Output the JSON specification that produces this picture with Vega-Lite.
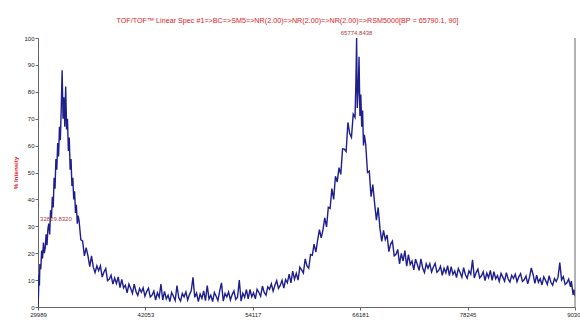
{
  "$schema": "https://vega.github.io/schema/vega-lite/v6.json",
  "autosize": "none",
  "width": 537,
  "height": 269,
  "padding": {"left": 38, "top": 38, "right": 5, "bottom": 13},
  "background": "white",
  "config": {"view": {"stroke": null}, "font": "Liberation Sans"},
  "title": {"text": "TOF/TOF\u2122 Linear Spec #1=>BC=>SM5=>NR(2.00)=>NR(2.00)=>NR(2.00)=>RSM5000[BP = 65790.1, 90]", "color": "#e0201c", "fontSize": 7.2, "fontWeight": "normal", "font": "Liberation Sans", "anchor": "middle", "dx": -19, "offset": 6},
  "datasets": {
    "spec": [
      {"m":29989,"i":0},{"m":30050,"i":5},{"m":30100,"i":12},{"m":30150,"i":8},{"m":30200,"i":16},{"m":30300,"i":14},{"m":30400,"i":21},{"m":30500,"i":18},{"m":30600,"i":24},{"m":30700,"i":20},{"m":30800,"i":22},{"m":30900,"i":27},{"m":31000,"i":23},{"m":31100,"i":29},{"m":31200,"i":31},{"m":31300,"i":27},{"m":31400,"i":36},{"m":31500,"i":33},{"m":31600,"i":41},{"m":31700,"i":37},{"m":31800,"i":48},{"m":31900,"i":44},{"m":32000,"i":55},{"m":32100,"i":51},{"m":32200,"i":61},{"m":32300,"i":56},{"m":32400,"i":67},{"m":32500,"i":62},{"m":32600,"i":74},{"m":32700,"i":88},{"m":32800,"i":70},{"m":32900,"i":78},{"m":33000,"i":67},{"m":33100,"i":82},{"m":33200,"i":66},{"m":33300,"i":70},{"m":33400,"i":58},{"m":33500,"i":63},{"m":33600,"i":51},{"m":33700,"i":55},{"m":33800,"i":45},{"m":33900,"i":48},{"m":34000,"i":40},{"m":34100,"i":43},{"m":34200,"i":35},{"m":34300,"i":38},{"m":34400,"i":31},{"m":34500,"i":34},
      {"m":34600,"i":32.2},{"m":34800,"i":25},{"m":35000,"i":24.6},{"m":35200,"i":19},{"m":35400,"i":22.1},{"m":35600,"i":19},{"m":35800,"i":15},{"m":36000,"i":19},{"m":36200,"i":14.8},{"m":36400,"i":12.8},{"m":36600,"i":15.3},{"m":36800,"i":13.5},{"m":37000,"i":15.3},{"m":37200,"i":11.1},{"m":37400,"i":13},{"m":37600,"i":14.3},{"m":37800,"i":9.8},{"m":38000,"i":10.4},{"m":38200,"i":11.8},{"m":38400,"i":8.5},{"m":38600,"i":10.8},{"m":38800,"i":8.7},{"m":39000,"i":11.2},{"m":39200,"i":7.2},{"m":39400,"i":10.3},{"m":39600,"i":7.1},{"m":39800,"i":8.1},{"m":40000,"i":5.3},{"m":40200,"i":8.5},{"m":40400,"i":6.9},{"m":40600,"i":5.1},{"m":40800,"i":8.5},{"m":41000,"i":5.7},{"m":41200,"i":4.3},{"m":41400,"i":6.9},{"m":41600,"i":5.5},{"m":41800,"i":7.1},{"m":42000,"i":4},{"m":42200,"i":5.8},{"m":42400,"i":7},{"m":42600,"i":3.7},{"m":42800,"i":4.4},{"m":43000,"i":5.9},{"m":43200,"i":2.6},{"m":43400,"i":5.3},{"m":43600,"i":3.6},{"m":43800,"i":8.5},{"m":44000,"i":2.6},
      {"m":44200,"i":5.8},{"m":44400,"i":3},{"m":44600,"i":4.4},{"m":44800,"i":2},{"m":45000,"i":5.4},{"m":45200,"i":4},{"m":45400,"i":2.4},{"m":45600,"i":8},{"m":45800,"i":3.4},{"m":46000,"i":2.2},{"m":46200,"i":5},{"m":46400,"i":3.8},{"m":46600,"i":5.6},{"m":46800,"i":2.6},{"m":47000,"i":4.6},{"m":47200,"i":6},{"m":47400,"i":11},{"m":47600,"i":3.6},{"m":47800,"i":5.2},{"m":48000,"i":2},{"m":48200,"i":4.8},{"m":48400,"i":3.2},{"m":48600,"i":6},{"m":48800,"i":2.4},{"m":49000,"i":8},{"m":49200,"i":3},{"m":49400,"i":4.4},{"m":49600,"i":2},{"m":49800,"i":5.4},{"m":50000,"i":4},{"m":50200,"i":2.4},{"m":50400,"i":6},{"m":50600,"i":9},{"m":50800,"i":2.2},{"m":51000,"i":5},{"m":51200,"i":3.8},{"m":51400,"i":5.6},{"m":51600,"i":2.6},{"m":51800,"i":4.6},{"m":52000,"i":6},{"m":52200,"i":2.8},{"m":52400,"i":3.6},{"m":52600,"i":10},{"m":52800,"i":2.2},{"m":53000,"i":5.1},{"m":53200,"i":3.6},{"m":53400,"i":6.5},{"m":53600,"i":3},{"m":53800,"i":6.5},{"m":54000,"i":3.8},{"m":54200,"i":5.3},{"m":54400,"i":3},{"m":54600,"i":6.6},{"m":54800,"i":5.4},{"m":55000,"i":4},{"m":55200,"i":7.8},{"m":55400,"i":5.4},{"m":55600,"i":4.4},{"m":55800,"i":7.5},{"m":56000,"i":6.6},{"m":56200,"i":8.6},{"m":56400,"i":5.9},{"m":56600,"i":8.1},{"m":56800,"i":9.8},{"m":57000,"i":6.9},{"m":57200,"i":8},{"m":57400,"i":9.9},{"m":57600,"i":7},{"m":57800,"i":10.2},{"m":58000,"i":9},{"m":58200,"i":12.2},{"m":58400,"i":9},{"m":58600,"i":13.3},{"m":58800,"i":10.3},{"m":59000,"i":12.5},{"m":59200,"i":10},{"m":59400,"i":14.8},{"m":59600,"i":13.8},{"m":59800,"i":12.6},{"m":60000,"i":17.9},{"m":60200,"i":15.3},{"m":60400,"i":14.4},{"m":60600,"i":19.5},{"m":60800,"i":19.2},{"m":61000,"i":23.4},{"m":61200,"i":20.4},{"m":61400,"i":24.9},{"m":61600,"i":28.8},{"m":61800,"i":25.7},{"m":62000,"i":28.7},{"m":62200,"i":33.1},{"m":62400,"i":29.8},{"m":62600,"i":37.1},{"m":62800,"i":36.6},{"m":63000,"i":44},{"m":63200,"i":40},{"m":63400,"i":48.6},{"m":63600,"i":46.5},{"m":63800,"i":51.8},{"m":64000,"i":49.3},{"m":64200,"i":58.8},{"m":64400,"i":58.7},{"m":64600,"i":57.8},{"m":64800,"i":68.6},{"m":65000,"i":64.5},{"m":65200,"i":63.1},{"m":65400,"i":71.7},{"m":65600,"i":70.5},
      {"m":65700,"i":84},{"m":65780,"i":100},{"m":65850,"i":74},{"m":65950,"i":80},{"m":66050,"i":93},{"m":66150,"i":71},{"m":66250,"i":79},{"m":66350,"i":67},{"m":66450,"i":73},{"m":66550,"i":60},{"m":66650,"i":64},
      {"m":66800,"i":60.5},{"m":67000,"i":50},{"m":67200,"i":50.5},{"m":67400,"i":41},{"m":67600,"i":45.5},{"m":67800,"i":38.5},{"m":68000,"i":32.3},{"m":68200,"i":37},{"m":68400,"i":29.3},{"m":68600,"i":24.4},{"m":68800,"i":28.5},{"m":69000,"i":25},{"m":69200,"i":26.8},{"m":69400,"i":20.6},{"m":69600,"i":23.4},{"m":69800,"i":24.5},{"m":70000,"i":19},{"m":70200,"i":19.6},{"m":70400,"i":21.4},{"m":70600,"i":16},{"m":70800,"i":19.9},{"m":71000,"i":17.1},{"m":71200,"i":21},{"m":71400,"i":15.2},{"m":71600,"i":19.5},{"m":71800,"i":15.8},{"m":72000,"i":17.1},{"m":72200,"i":13.8},{"m":72400,"i":17.8},{"m":72600,"i":15.8},{"m":72800,"i":13.6},{"m":73000,"i":17.9},{"m":73200,"i":14.5},{"m":73400,"i":12.8},{"m":73600,"i":16.1},{"m":73800,"i":14.4},{"m":74000,"i":16.1},{"m":74200,"i":13},{"m":74400,"i":14.9},{"m":74600,"i":16.2},{"m":74800,"i":12.9},{"m":75000,"i":13.6},{"m":75200,"i":15.1},{"m":75400,"i":11.8},{"m":75600,"i":14.4},{"m":75800,"i":12.7},{"m":76000,"i":15.4},{"m":76200,"i":11.7},{"m":76400,"i":15},{"m":76600,"i":12.1},{"m":76800,"i":13.4},{"m":77000,"i":10.9},{"m":77200,"i":14.3},{"m":77400,"i":12.8},{"m":77600,"i":11.1},{"m":77800,"i":14.6},{"m":78000,"i":12},{"m":78200,"i":10.7},{"m":78400,"i":13.4},{"m":78600,"i":12.2},{"m":78800,"i":17.5},{"m":79000,"i":10.8},{"m":79200,"i":12.8},{"m":79400,"i":14.1},{"m":79600,"i":10.8},{"m":79800,"i":11.6},{"m":80000,"i":13.1},{"m":80200,"i":9.8},{"m":80400,"i":12.6},{"m":80600,"i":10.9},{"m":80800,"i":13.6},{"m":81000,"i":9.9},{"m":81200,"i":13.1},{"m":81400,"i":10.5},{"m":81600,"i":11.7},{"m":81800,"i":9.5},{"m":82000,"i":12.5},{"m":82200,"i":11.1},{"m":82400,"i":9.6},{"m":82600,"i":12.8},{"m":82800,"i":10.4},{"m":83000,"i":9.3},{"m":83200,"i":11.8},{"m":83400,"i":10.6},{"m":83600,"i":12.2},{"m":83800,"i":9.4},{"m":84000,"i":11.2},{"m":84200,"i":12.4},{"m":84400,"i":9.5},{"m":84600,"i":10.1},{"m":84800,"i":11.5},{"m":85000,"i":8.6},{"m":85200,"i":11.1},{"m":85400,"i":14.5},{"m":85600,"i":12.1},{"m":85800,"i":8.8},{"m":86000,"i":11.8},{"m":86200,"i":9.2},{"m":86400,"i":10.5},{"m":86600,"i":8.2},{"m":86800,"i":11.2},{"m":87000,"i":9.9},{"m":87200,"i":8.4},{"m":87400,"i":11.6},{"m":87600,"i":9.2},{"m":87800,"i":8.1},{"m":88000,"i":10.6},{"m":88200,"i":9.5},{"m":88400,"i":11},{"m":88600,"i":16.5},{"m":88800,"i":10.1},{"m":89000,"i":11.3},{"m":89200,"i":8.4},{"m":89400,"i":9},{"m":89600,"i":10.4},{"m":89800,"i":7.5},{"m":89900,"i":9.6},{"m":90000,"i":7},{"m":90100,"i":4.5},{"m":90200,"i":6.5},{"m":90309,"i":4}
    ],
    "labels": [
      {"m":65774.8438,"i":100,"t":"65774.8438"},
      {"m":32000,"i":31,"t":"32829.8320"}
    ],
    "edge": [
      {"m":90309,"i":0,"hi":100}
    ]
  },
  "encoding": {
    "x": {"field": "m", "type": "quantitative",
          "scale": {"domain": [29989, 90309], "nice": false, "zero": false},
          "axis": {"values": [29989, 42053, 54117, 66181, 78245, 90309], "format": "d",
                   "title": "Mass (m/z)", "titleColor": "#e0201c", "titleFontSize": 7, "titleFontWeight": "normal", "titlePadding": 1,
                   "labelFontSize": 6, "labelColor": "#222", "labelFont": "Liberation Sans", "labelPadding": 1, "labelFlush": false, "labelOverlap": false,
                   "domainColor": "#666", "tickColor": "#666", "tickSize": 3, "grid": false}},
    "y": {"field": "i", "type": "quantitative",
          "scale": {"domain": [0, 100], "nice": false},
          "axis": {"values": [0,10,20,30,40,50,60,70,80,90,100], "labelOverlap": false,
                   "title": "% Intensity", "titleColor": "#e0201c", "titleFontSize": 6.2, "titleFontWeight": "bold", "titlePadding": 5,
                   "labelFontSize": 6, "labelColor": "#222", "labelFont": "Liberation Sans", "labelPadding": 1,
                   "domainColor": "#666", "tickColor": "#666", "tickSize": 3, "grid": false}}
  },
  "layer": [
    {
      "data": {"name": "spec"},
      "mark": {"type": "line", "color": "#1e1e8c", "strokeWidth": 1.4, "clip": true}
    },
    {
      "data": {"name": "edge"},
      "mark": {"type": "rule", "color": "#666", "strokeWidth": 1},
      "encoding": {"y2": {"field": "hi"}}
    },
    {
      "data": {"name": "labels"},
      "mark": {"type": "text", "color": "#a83c3c", "fontSize": 6, "font": "Liberation Sans", "baseline": "bottom", "dy": -2},
      "encoding": {"text": {"field": "t"}}
    }
  ]
}
